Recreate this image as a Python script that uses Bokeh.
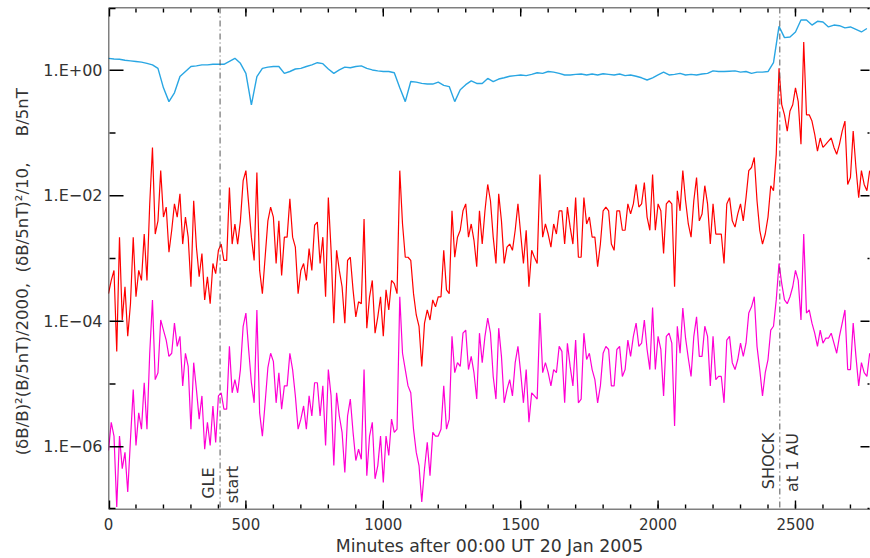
import numpy as np
from math import pi
from bokeh.plotting import figure
from bokeh.models import (Range1d, FixedTicker, LinearAxis, LogAxis, Label, Span,
                          CustomJSTickFormatter, BasicTickFormatter)
from bokeh.embed import file_html
from bokeh.resources import INLINE

# ---------------- data (log10 values) ----------------
# B/5nT, sampled every 20 minutes
b_minutes = np.arange(0, 2780, 20)
b_log10 = [
    0.19, 0.18, 0.175, 0.16, 0.15, 0.14, 0.13, 0.11, 0.085, 0.03, -0.28, -0.5, -0.36, -0.1, -0.02,
    0.06, 0.07, 0.085, 0.085, 0.095, 0.095, 0.095, 0.14, 0.19, 0.11, -0.05, -0.55, -0.1, 0.03, 0.05,
    0.06, 0.06, -0.05, -0.02, 0.02,
    0.03, 0.06, 0.085, 0.12, 0.105, 0.02, -0.05, 0.005, 0.05, 0.04, 0.06, 0.07, 0.03, 0.005, -0.01,
    -0.02, -0.02, -0.04, -0.28, -0.5, -0.18, -0.19, -0.21, -0.22, -0.22, -0.19, -0.24, -0.26, -0.5,
    -0.31, -0.23, -0.17, -0.21, -0.21, -0.13, -0.18,
    -0.14, -0.12, -0.095, -0.085, -0.075, -0.085, -0.065, -0.04, -0.05, -0.02, -0.03, -0.05, -0.075,
    -0.075, -0.065, -0.06, -0.075, -0.06, -0.075, -0.055, -0.065, -0.075, -0.06, -0.085, -0.075,
    -0.095, -0.12, -0.155, -0.12, -0.075, -0.03, -0.075, -0.065, -0.05,
    -0.075, -0.065, -0.075, -0.06, -0.05, -0.01, -0.02, -0.02, -0.015, -0.01, -0.03, -0.02, -0.05,
    -0.03, -0.03, -0.02, 0.12, 0.7, 0.52, 0.53, 0.61, 0.8, 0.8, 0.72, 0.78, 0.77, 0.69, 0.72, 0.71,
    0.675, 0.69, 0.65, 0.61, 0.665,
]

# (dB/5nT)^2/10 and (dB)^2(B/5nT)/2000, sampled every 10 minutes
d_minutes = np.arange(0, 2780, 10)
red_log10 = [
    -3.56, -3.35, -3.19, -4.48, -2.66, -3.98, -3.45, -4.24, -3.72, -2.66,
    -3.61, -3.19, -3.35, -2.61, -3.35, -2.13, -1.23, -2.61, -2.40, -1.60,
    -2.34, -2.18, -2.90, -2.55, -2.13, -2.34, -1.97, -2.77, -2.34, -2.66,
    -3.45, -2.08, -2.82, -3.29, -2.92, -3.66, -3.29, -3.72, -3.08, -3.24,
    -2.87, -2.77, -3.03, -3.03, -1.87, -2.77, -2.45, -2.77, -2.40, -1.76,
    -1.60, -2.13, -2.66, -3.03, -1.63, -3.19, -3.56, -2.98, -2.40, -2.18,
    -2.34, -3.08, -2.40, -3.27, -2.66, -2.66, -2.05, -2.66, -2.82, -3.56,
    -3.19, -3.08, -3.35, -2.84, -3.19, -2.47, -2.42, -3.08, -2.66, -3.61,
    -2.03, -2.87, -4.03, -2.87, -3.19, -3.45, -4.03, -3.03, -2.98, -3.50,
    -3.93, -3.69, -3.72, -2.37, -4.11, -3.61, -3.35, -4.19, -3.93, -3.61,
    -4.24, -3.50, -3.82, -3.35, -3.40, -3.56, -1.60, -2.45, -2.98, -2.98,
    -3.03, -3.56, -3.90, -4.08, -4.72, -4.03, -3.82, -3.98, -3.66, -3.77,
    -3.61, -3.61, -2.87, -3.50, -3.56, -2.24, -2.98, -2.66, -2.55, -2.24,
    -2.13, -2.66, -2.45, -2.71, -3.13, -2.24, -2.77, -2.24, -1.82, -2.08,
    -2.66, -3.08, -1.97, -2.40, -3.08, -2.82, -2.77, -2.87, -2.55, -2.13,
    -2.61, -3.08, -2.55, -3.45, -2.87, -2.98, -3.08, -1.66, -2.66, -2.45,
    -2.61, -2.82, -2.45, -2.61, -2.24, -2.24, -2.77, -2.18, -2.50, -2.77,
    -2.03, -2.98, -2.98, -2.03, -2.45, -2.34, -2.66, -2.66, -3.13, -2.77,
    -2.24, -2.18, -2.24, -2.77, -2.87, -2.24, -2.24, -2.55, -2.55, -2.13,
    -2.29, -2.13, -1.82, -2.18, -2.13, -1.79, -2.34, -2.55, -1.66, -2.55,
    -2.13, -2.24, -2.92, -2.13, -2.08, -2.13, -3.45, -1.92, -2.24,
    -1.60, -2.08, -2.45, -2.66, -2.08, -1.71, -2.40, -2.29, -1.84, -2.13,
    -2.77, -2.13, -2.61, -2.61, -2.61, -3.08, -2.13, -2.03, -2.40, -2.50,
    -2.29, -2.13, -2.40, -2.03, -1.60, -1.55, -1.39, -2.08, -2.55, -2.77,
    -2.61, -2.34, -1.84, -1.92, -1.34, 0.03, -0.55, -0.71, -0.97, -0.65,
    -0.55, -0.28, -0.50, -1.18, 0.45, -0.71, -0.71, -0.81, -1.02, -1.29,
    -1.08, -1.23, -1.18, -1.13, -1.08, -1.23, -1.34, -1.18, -0.97, -0.81,
    -1.82, -1.71, -0.97, -1.55, -2.03, -1.60, -1.82, -1.92, -1.60,
]
mag_log10 = [
    -6.06, -5.61, -5.83, -6.96, -5.83, -6.35, -6.09, -6.72, -5.88, -5.09,
    -5.98, -5.46, -5.72, -4.98, -5.72, -4.51, -3.66, -4.93, -4.82, -3.98,
    -4.14, -4.30, -4.56, -4.51, -4.03, -4.40, -4.24, -5.03, -4.51, -4.72,
    -5.72, -4.66, -5.09, -5.56, -5.19, -6.04, -5.61, -5.98, -5.35, -5.93,
    -5.19, -5.14, -5.40, -5.40, -4.40, -5.14, -4.93, -5.14, -4.77, -4.08,
    -3.87, -4.45, -4.98, -5.30, -3.82, -5.46, -5.83, -5.30, -4.74, -4.51,
    -4.64, -5.30, -4.82, -5.40, -5.03, -5.03, -4.51, -4.77, -5.19, -5.72,
    -5.56, -5.35, -5.72, -5.19, -5.51, -4.98, -4.98, -5.51, -5.03, -5.98,
    -4.77, -5.19, -6.30, -5.14, -5.51, -5.77, -6.41, -5.51, -5.24, -5.77,
    -6.22, -6.04, -6.20, -4.77, -6.46, -5.83, -5.61, -6.51, -6.30, -5.83,
    -6.57, -5.83, -6.14, -5.56, -5.77, -5.72, -3.61, -4.51, -4.77, -5.03,
    -5.14, -5.72, -6.09, -6.30, -6.88, -6.35, -5.93, -6.46, -5.77, -5.83,
    -5.83, -5.72, -5.03, -5.72, -5.56, -4.24, -4.82, -4.66, -4.72, -4.19,
    -4.14, -4.77, -4.56, -4.82, -5.24, -4.19, -4.66, -4.24, -3.95, -4.19,
    -4.88, -5.24, -4.11, -4.56, -5.30, -5.09, -4.93, -5.19, -4.66, -4.40,
    -4.82, -5.30, -4.77, -5.61, -5.14, -5.19, -5.24, -3.87, -4.82, -4.66,
    -4.82, -5.03, -4.77, -4.82, -4.40, -4.48, -5.30, -4.35, -4.72, -5.03,
    -4.30, -5.30, -5.24, -4.19, -4.61, -4.51, -4.77, -4.93, -5.30, -5.03,
    -4.51, -4.40, -4.45, -5.03, -5.03, -4.45, -4.40, -4.88, -4.77, -4.30,
    -4.56, -4.24, -4.03, -4.40, -4.35, -3.98, -4.45, -4.77, -3.78, -4.77,
    -4.24, -4.45, -5.19, -4.24, -4.19, -4.35, -5.67, -4.08, -4.51,
    -3.79, -4.27, -4.59, -4.88, -4.24, -3.93, -4.56, -4.56, -4.08, -4.24,
    -5.03, -4.24, -4.93, -4.88, -4.88, -5.30, -4.30, -4.24, -4.66, -4.77,
    -4.61, -4.35, -4.56, -4.35, -3.87, -3.77, -3.61, -4.40, -4.77, -5.19,
    -4.82, -4.61, -4.14, -4.08, -3.66, -3.08, -3.40, -3.66, -3.72, -3.61,
    -3.45, -3.19, -3.35, -3.98, -2.61, -3.87, -3.82, -4.03, -4.19, -4.40,
    -4.14, -4.35, -4.27, -4.27, -4.19, -4.35, -4.51, -4.24, -4.03, -3.82,
    -4.77, -4.77, -4.03, -4.56, -5.03, -4.66, -4.82, -4.88, -4.51,
]

event_minutes = [406, 2443]
event_left_text = ["GLE", "SHOCK"]
event_right_text = ["start", "at 1 AU"]

x_range_minutes = [0, 2773]
y_range_decades = [1e-7, 1e1]
x_major_ticks = [0, 500, 1000, 1500, 2000, 2500]
x_minor_ticks = list(range(100, 2800, 100))
y_major_ticks = [1e0, 1e-2, 1e-4, 1e-6]
y_minor_ticks = [1e1, 1e-1, 1e-3, 1e-5, 1e-7]

x_label = "Minutes after 00:00 UT 20 Jan 2005"
NB = "\u00a0"
y_label = ("(\u03b4B/B)\u00b2(B/5nT)/2000," + NB * 2 + "(\u03b4B/5nT)\u00b2/10," + NB * 5
           + "B/5nT" + NB * 5)

# ---------------- figure ----------------
FONT = "DejaVu Sans"
TXT = "#333333"
x0, x1 = x_range_minutes
y0, y1 = y_range_decades

p = figure(width=870, height=558, x_range=Range1d(x0, x1), y_range=Range1d(y0, y1),
           y_axis_type="log", x_axis_location=None, y_axis_location=None,
           output_backend="svg", toolbar_location=None,
           min_border_left=108, min_border_right=0, min_border_top=7, min_border_bottom=47)
p.outline_line_color = None
p.grid.visible = False
p.background_fill_color = None
p.border_fill_color = None

xt = FixedTicker(ticks=x_major_ticks, minor_ticks=[])
yt = FixedTicker(ticks=y_major_ticks, minor_ticks=[])

yfmt = CustomJSTickFormatter(code="""
const e = Math.round(Math.log10(tick));
const s = e < 0 ? '\u2212' : '+';
const a = Math.abs(e);
return '1.E' + s + (a < 10 ? '0' : '') + a;
""")

noticks = dict(axis_line_color=None, major_tick_line_color=None, minor_tick_line_color=None,
               major_tick_in=0, major_tick_out=0, minor_tick_in=0, minor_tick_out=0,
               background_fill_color=None)

bottom = LinearAxis(ticker=xt, formatter=BasicTickFormatter(), axis_label=x_label,
                    major_label_text_font=FONT, major_label_text_font_size="15px",
                    major_label_text_color=TXT, major_label_standoff=8,
                    axis_label_text_font=FONT, axis_label_text_font_size="17.3px",
                    axis_label_text_font_style="normal", axis_label_text_color=TXT,
                    axis_label_standoff=3, **noticks)
p.add_layout(bottom, "below")

left = LogAxis(ticker=yt, formatter=yfmt, axis_label=y_label,
               major_label_text_font=FONT, major_label_text_font_size="16px",
               major_label_text_color=TXT, major_label_standoff=6,
               axis_label_text_font=FONT, axis_label_text_font_size="16.6px",
               axis_label_text_font_style="normal", axis_label_text_color=TXT,
               axis_label_standoff=8, **noticks)
p.add_layout(left, "left")

# data lines
p.line(b_minutes, 10 ** np.array(b_log10), line_color="#29a6e3", line_width=1.4)
p.line(d_minutes, 10 ** np.array(red_log10), line_color="#ff0000", line_width=1.2)
p.line(d_minutes, 10 ** np.array(mag_log10), line_color="#ff00d4", line_width=1.2)

# inward tick marks: short rays (length in screen pixels) starting about one pixel
# inside the frame edges
frame_px_x = 762.0          # approximate frame width in pixels
frame_px_decade = 63.0      # approximate pixels per decade
ex = (x1 - x0) / frame_px_x
fy = 10 ** (1.0 / frame_px_decade)
xl, xr = x0 + ex, x1 - ex
yb, yt_ = y0 * fy, y1 / fy
y_minor_in = [min(max(v, yb), yt_) for v in y_minor_ticks]
x_major_in = [min(max(v, xl), xr) for v in x_major_ticks]
nyM, nym = len(y_major_ticks), len(y_minor_ticks)
nxM, nxm = len(x_major_ticks), len(x_minor_ticks)
ray_style = dict(line_color="black", line_width=1.4, length_units="screen")
p.ray([xl] * nyM, y_major_ticks, length=14, angle=0, **ray_style)
p.ray([xl] * nym, y_minor_in, length=6, angle=0, **ray_style)
p.ray([xr] * nyM, y_major_ticks, length=9, angle=pi, **ray_style)
p.ray([xr] * nym, y_minor_in, length=2, angle=pi, **ray_style)
p.ray(x_major_in, [yb] * nxM, length=8, angle=pi / 2, **ray_style)
p.ray(x_minor_ticks, [yb] * nxm, length=4, angle=pi / 2, **ray_style)
p.ray(x_major_in, [yt_] * nxM, length=8, angle=-pi / 2, **ray_style)
p.ray(x_minor_ticks, [yt_] * nxm, length=4, angle=-pi / 2, **ray_style)

# frame lines (left, bottom, top; the right edge lies beyond the picture)
p.add_layout(Span(location=x0, dimension="height", line_color="black", line_width=1.5))
p.add_layout(Span(location=y0, dimension="width", line_color="black", line_width=1.5))
p.add_layout(Span(location=y1, dimension="width", line_color="black", line_width=1.5))

# event markers
label_y_left = [1.48e-7, 2.1e-7]
label_y_right = [1.26e-7, 1.9e-7]
for i, m in enumerate(event_minutes):
    p.add_layout(Span(location=m, dimension="height", line_color="#555555",
                      line_width=1, line_dash="6 3 1 3"))
    p.add_layout(Label(x=m, y=label_y_left[i], text=event_left_text[i], angle=pi / 2,
                       text_align="left", text_baseline="bottom", x_offset=-2,
                       text_font=FONT, text_font_size="16px", text_color=TXT))
    p.add_layout(Label(x=m, y=label_y_right[i], text=event_right_text[i], angle=pi / 2,
                       text_align="left", text_baseline="top", x_offset=3,
                       text_font=FONT, text_font_size="16px", text_color=TXT))

open("out.html", "w").write(file_html(p, INLINE))
